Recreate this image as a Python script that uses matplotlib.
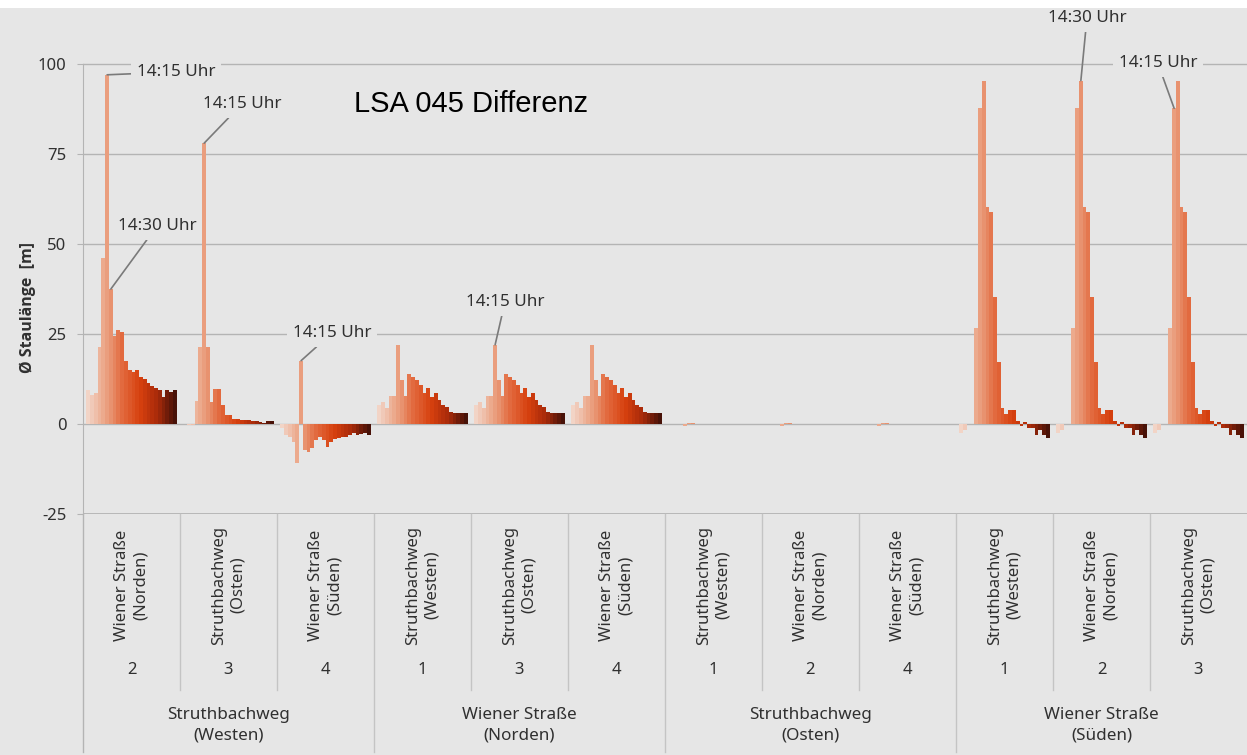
import numpy as np
import matplotlib
matplotlib.use("Agg")
import matplotlib.pyplot as plt
from matplotlib.colors import LinearSegmentedColormap

plt.rcParams['font.family'] = ['Noto Sans', 'DejaVu Sans']

# --- data: 12 approaches x 24 time slots (15 min, slot 5 = 14:15 Uhr) ---
approaches = ["Wiener Straße\n(Norden)", "Struthbachweg\n(Osten)", "Wiener Straße\n(Süden)",
              "Struthbachweg\n(Westen)", "Struthbachweg\n(Osten)", "Wiener Straße\n(Süden)",
              "Struthbachweg\n(Westen)", "Wiener Straße\n(Norden)", "Wiener Straße\n(Süden)",
              "Struthbachweg\n(Westen)", "Wiener Straße\n(Norden)", "Struthbachweg\n(Osten)"]
approach_nr = ["2", "3", "4", "1", "3", "4", "1", "2", "4", "1", "2", "3"]
arms = ["Struthbachweg\n(Westen)", "Wiener Straße\n(Norden)",
        "Struthbachweg\n(Osten)", "Wiener Straße\n(Süden)"]

sw_wn = [9.5, 8, 8.5, 21.5, 46, 97, 37.5, 24.5, 26, 25.5, 17.5, 15,
         14.5, 15, 13, 12.5, 11.5, 10.5, 10, 9.5, 7.5, 9.5, 9, 9.5]
sw_so = [0, -0.3, -0.2, 6.5, 21.5, 78, 21.5, 6, 9.7, 9.7, 5.3, 2.5,
         2.5, 1.5, 1.5, 1, 1, 1, 0.8, 0.8, 0.5, 0.3, 0.8, 0.8]
sw_ws = [-1, -3, -3.5, -5, -10.7, 17.6, -7.2, -7.7, -6.8, -4.4, -3.5, -4.4,
         -6.3, -4.9, -4.3, -4, -3.5, -3.5, -3, -2.6, -3, -2.8, -2.6, -3]
wn_sw = [5.3, 6, 4.4, 7.8, 7.8, 22, 12.2, 7.8, 14, 13, 12.2, 10.8,
         8.5, 9.9, 7.6, 8.5, 6.7, 5.3, 4.8, 3.4, 3, 3, 3, 3]
wn_so = [5.3, 6, 4.4, 7.8, 7.8, 22, 12.2, 7.8, 14, 13, 12.2, 10.8,
         8.5, 9.9, 7.6, 8.5, 6.7, 5.3, 4.8, 3.4, 3, 3, 3, 3]
wn_ws = [5.3, 6, 4.4, 7.8, 7.8, 22, 12.2, 7.8, 14, 13, 12.2, 10.8,
         8.5, 9.9, 7.6, 8.5, 6.7, 5.3, 4.8, 3.4, 3, 3, 3, 3]
so_sw = [0, 0, 0, 0, -0.5, 0.3, 0.4, 0, 0, 0, 0, 0,
         0, 0, 0, 0, 0, 0, 0, 0, 0, 0, 0, 0]
so_wn = [0, 0, 0, 0, -0.5, 0.3, 0.4, 0, 0, 0, 0, 0,
         0, 0, 0, 0, 0, 0, 0, 0, 0, 0, 0, 0]
so_ws = [0, 0, 0, 0, -0.5, 0.3, 0.4, 0, 0, 0, 0, 0,
         0, 0, 0, 0, 0, 0, 0, 0, 0, 0, 0, 0]
ws_sw = [-2.6, -1.7, 0, 0, 26.6, 87.7, 95.4, 60.2, 58.8, 35.2, 17.3, 4.4,
         2.8, 3.9, 3.9, 0.9, -0.5, 0.5, -1, -1, -3, -1.7, -3, -4]
ws_wn = [-2.6, -1.7, 0, 0, 26.6, 87.7, 95.4, 60.2, 58.8, 35.2, 17.3, 4.4,
         2.8, 3.9, 3.9, 0.9, -0.5, 0.5, -1, -1, -3, -1.7, -3, -4]
ws_so = [-2.6, -1.7, 0, 0, 26.6, 87.7, 95.4, 60.2, 58.8, 35.2, 17.3, 4.4,
         2.8, 3.9, 3.9, 0.9, -0.5, 0.5, -1, -1, -3, -1.7, -3, -4]

groups = [sw_wn, sw_so, sw_ws, wn_sw, wn_so, wn_ws, so_sw, so_wn, so_ws, ws_sw, ws_wn, ws_so]
values = np.array(groups)  # shape (12, 24)
n_cat, n_slot = values.shape

bg = '#e6e6e6'
grid_c = '#b4b4b4'
txt_c = '#303030'

cmap = LinearSegmentedColormap.from_list('slots', [
    (0.0, '#f2d4c6'), (0.2, '#eba384'), (0.4, '#e2683c'),
    (0.6, '#d6400e'), (0.8, '#a82a0a'), (1.0, '#481208')])
colors = [cmap(i / (n_slot - 1)) for i in range(n_slot)]

fig = plt.figure(figsize=(12.47, 7.55), dpi=100, facecolor=bg)
ax = fig.add_axes([83 / 1247, 241 / 755, 1 - 83 / 1247, 504 / 755])
ax.set_facecolor(bg)

span = 0.928
w = span / n_slot
cat_x = np.arange(n_cat)


def bar_x(k, i):
    return k - span / 2 + w * (i + 0.5)


for i in range(n_slot):
    ax.bar(cat_x - span / 2 + w * (i + 0.5), values[:, i], width=w,
           color=colors[i], linewidth=0, zorder=3)

ax.set_xlim(-0.5, n_cat - 0.5)
ax.set_ylim(-25, 115)
ax.set_yticks([-25, 0, 25, 50, 75, 100])
ax.set_yticklabels(['-25', '0', '25', '50', '75', '100'])
ax.tick_params(axis='y', colors=grid_c, labelcolor=txt_c, labelsize=12, length=4, pad=8)
ax.set_xticks([])
for y in [-25, 0, 25, 50, 75, 100]:
    ax.axhline(y, color=grid_c, lw=1.3 if y == -25 else 1.0, zorder=1)
for s in ['top', 'right', 'bottom']:
    ax.spines[s].set_visible(False)
ax.spines['left'].set_color(grid_c)
ax.spines['left'].set_bounds(-25, 100)
ax.set_ylabel('Ø Staulänge  [m]', fontsize=11.5, fontweight='bold', color=txt_c,
              family=['Open Sans', 'DejaVu Sans'])
ax.yaxis.set_label_coords(-0.040, 0.41)

ax.text(3.5, 89, 'LSA 045 Differenz', fontsize=21, color='black', ha='center', va='center',
        family=['Liberation Sans', 'DejaVu Sans'])

# category table below the plot
tr = ax.get_xaxis_transform()
for k in range(n_cat):
    ax.text(k, -0.141, approaches[k], transform=tr, rotation=90, ha='center', va='center',
            multialignment='center', fontsize=12, color=txt_c, linespacing=1.25)
    ax.text(k, -0.3095, approach_nr[k], transform=tr, ha='center', va='center',
            fontsize=12, color=txt_c)
for j, name in enumerate(arms):
    ax.text(3 * j + 1, -0.419, name, transform=tr, ha='center', va='center',
            fontsize=12.3, color=txt_c, linespacing=1.4)
for k in range(1, n_cat):
    bottom = -0.472 if k % 3 == 0 else -0.349
    ax.plot([k - 0.5, k - 0.5], [0, bottom], transform=tr, color='#c4c4c4', lw=1.0, clip_on=False)
ax.plot([-0.5, -0.5], [0, -0.472], transform=tr, color=grid_c, lw=1.0, clip_on=False)

# annotations
ann_box = dict(boxstyle='square,pad=0.35', fc=bg, ec='none')
ann_line = dict(arrowstyle='-', color='#7a7a7a', lw=1.2, shrinkA=0, shrinkB=0)
notes = [
    (0, 5, '14:15 Uhr', (0.459, 97.8)),
    (1, 5, '14:15 Uhr', (1.139, 88.9)),
    (0, 6, '14:30 Uhr', (0.263, 55.0)),
    (2, 5, '14:15 Uhr', (2.067, 25.3)),
    (4, 5, '14:15 Uhr', (3.850, 33.9)),
    (10, 6, '14:30 Uhr', (9.850, 112.8)),
    (11, 5, '14:15 Uhr', (10.580, 100.3)),
]
for k, i, label, (tx, ty) in notes:
    ax.annotate(label, xy=(bar_x(k, i), values[k, i]), xytext=(tx, ty),
                ha='center', va='center', fontsize=12.3, color=txt_c,
                bbox=ann_box, arrowprops=ann_line, zorder=5)

# white strip at the top of the image
fig.patches.append(plt.Rectangle((0, 1 - 8 / 755), 1, 8 / 755, transform=fig.transFigure,
                                 fc='white', ec='none', zorder=10))

fig.savefig('out.png', dpi=100, facecolor=bg)
